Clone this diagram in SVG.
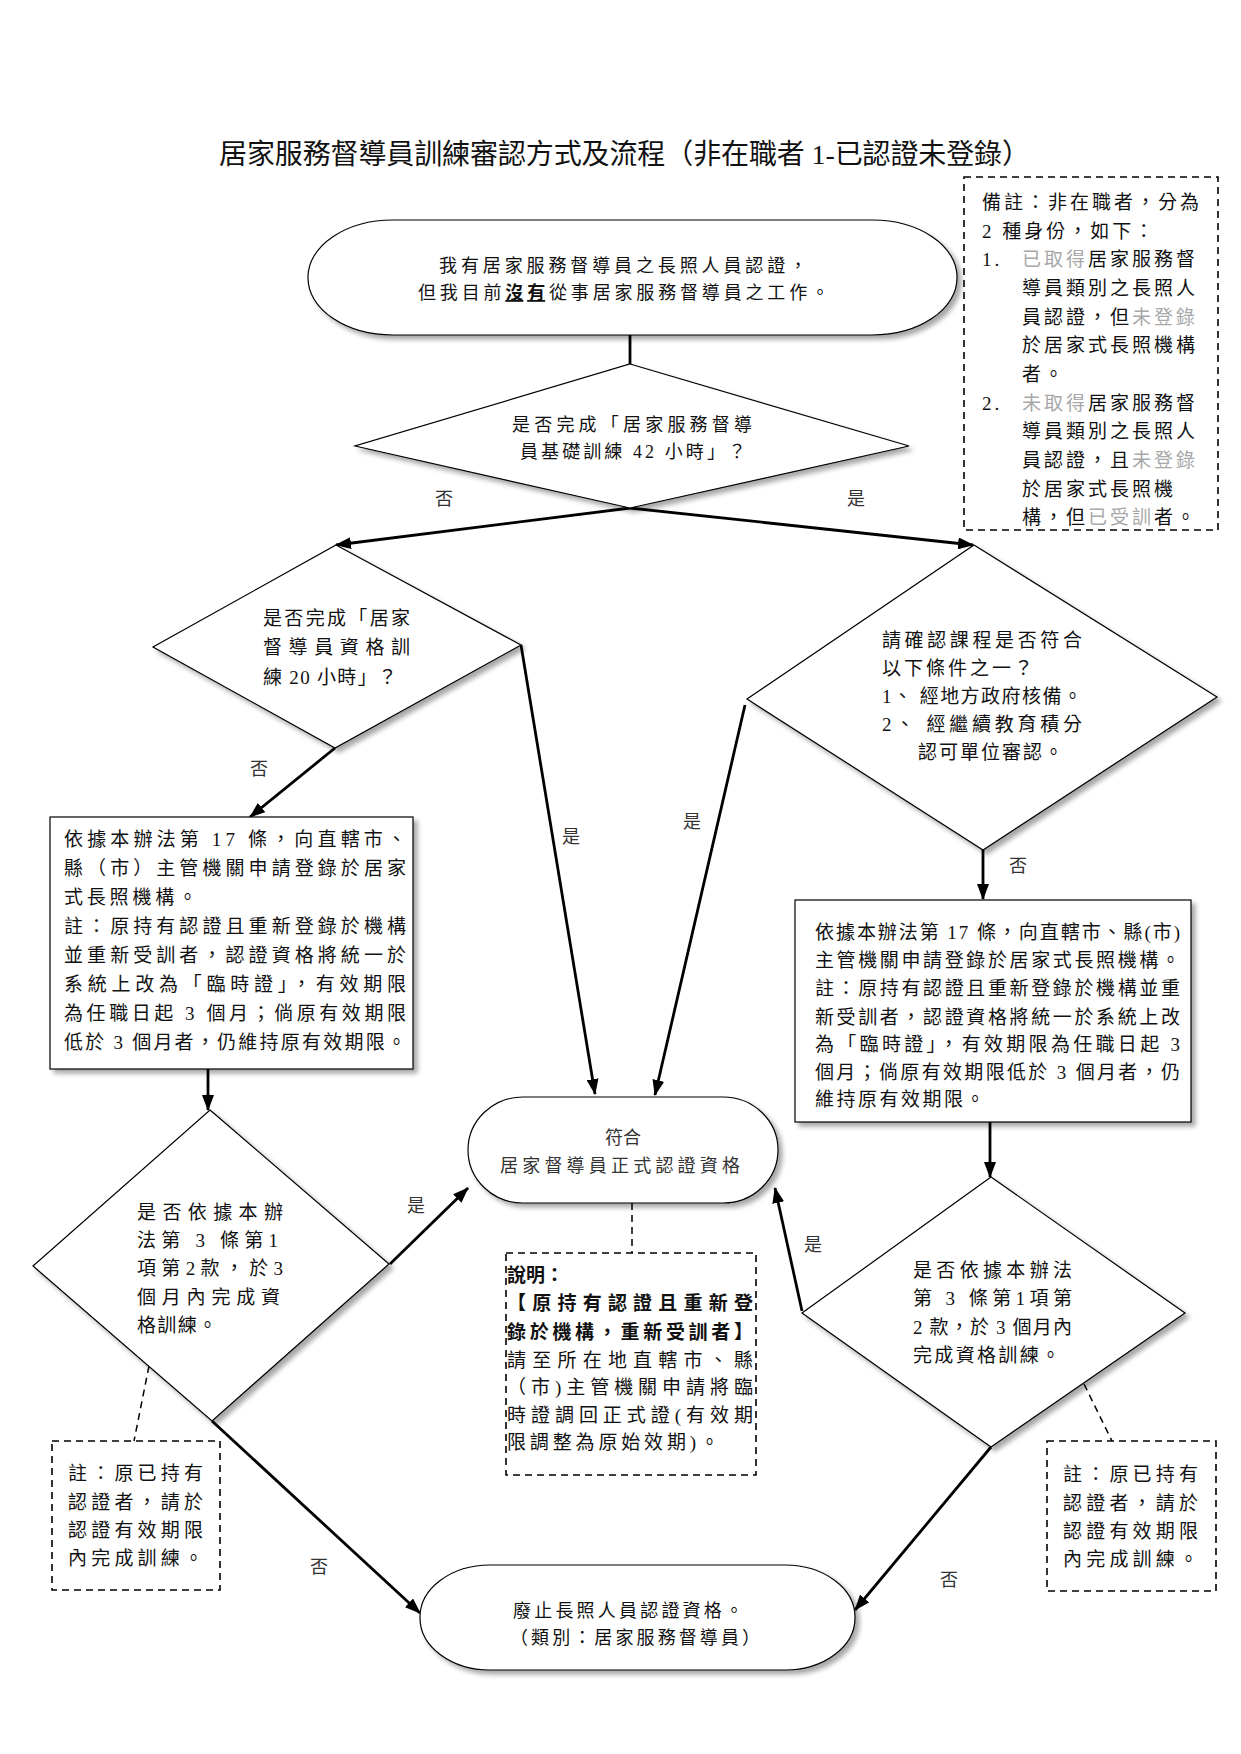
<svg xmlns="http://www.w3.org/2000/svg" width="1241" height="1754" viewBox="0 0 1241 1754">
<style>
.t{font-family:"Liberation Serif","Noto Sans CJK TC",serif;font-size:19px;fill:#111}
.s18{font-size:18px}
.lbl{font-family:"Liberation Serif","Noto Sans CJK TC",serif;font-size:18px;fill:#333}
.gray{fill:#a8a8a8}
.b{font-weight:bold}
.shape{fill:#fff;stroke:#000;stroke-width:1.2;filter:url(#sh)}
.dash{fill:#fff;stroke:#000;stroke-width:1.6;stroke-dasharray:7 5}
.dl{fill:none;stroke:#000;stroke-width:1.5;stroke-dasharray:7 5}
.conn{fill:none;stroke:#000;stroke-width:2.8}
.arr{marker-end:url(#ah)}
</style>
<defs>
<filter id="sh" x="-10%" y="-10%" width="130%" height="130%">
<feGaussianBlur in="SourceAlpha" stdDeviation="2.5"/>
<feOffset dx="4" dy="4" result="o"/>
<feComponentTransfer><feFuncA type="linear" slope="0.35"/></feComponentTransfer>
<feMerge><feMergeNode/><feMergeNode in="SourceGraphic"/></feMerge>
</filter>
<marker id="ah" markerUnits="userSpaceOnUse" markerWidth="16" markerHeight="12" refX="15" refY="6" orient="auto">
<path d="M0,0 L16,6 L0,12 z" fill="#000"/>
</marker>
</defs>
<rect width="1241" height="1754" fill="#fff"/>

<text class="t" x="219" y="164" style="font-size:28px" textLength="811" lengthAdjust="spacing">居家服務督導員訓練審認方式及流程（非在職者 1-已認證未登錄）</text>

<g id="connectors">
<line class="conn" x1="630" y1="335" x2="630" y2="364"/>
<line class="conn arr" x1="630" y1="508" x2="336" y2="545"/>
<line class="conn arr" x1="630" y1="508" x2="973" y2="545"/>
<line class="conn arr" x1="335" y1="748" x2="250" y2="817"/>
<line class="conn arr" x1="521" y1="645" x2="595" y2="1094"/>
<line class="conn arr" x1="745" y1="705" x2="655" y2="1095"/>
<line class="conn arr" x1="983" y1="850" x2="983" y2="899"/>
<line class="conn arr" x1="208" y1="1069" x2="208" y2="1110"/>
<line class="conn arr" x1="990" y1="1122" x2="990" y2="1177"/>
<line class="conn arr" x1="390" y1="1264" x2="468" y2="1188"/>
<line class="conn arr" x1="802" y1="1311" x2="775" y2="1188"/>
<line class="conn arr" x1="212" y1="1421" x2="420" y2="1613"/>
<line class="conn arr" x1="991" y1="1447" x2="855" y2="1610"/>
<line class="dl" x1="632" y1="1203" x2="632" y2="1253"/>
<line class="dl" x1="149" y1="1366" x2="134" y2="1441"/>
<line class="dl" x1="1084" y1="1384" x2="1112" y2="1441"/>
<text class="lbl" x="444" y="505" text-anchor="middle">否</text>
<text class="lbl" x="856" y="505" text-anchor="middle">是</text>
<text class="lbl" x="259" y="775" text-anchor="middle">否</text>
<text class="lbl" x="571" y="843" text-anchor="middle">是</text>
<text class="lbl" x="692" y="828" text-anchor="middle">是</text>
<text class="lbl" x="1018" y="872" text-anchor="middle">否</text>
<text class="lbl" x="416" y="1212" text-anchor="middle">是</text>
<text class="lbl" x="813" y="1251" text-anchor="middle">是</text>
<text class="lbl" x="319" y="1573" text-anchor="middle">否</text>
<text class="lbl" x="949" y="1586" text-anchor="middle">否</text>
</g>

<g id="note-top">
<rect class="dash" x="964" y="177" width="254" height="353"/>
<g class="t" style="letter-spacing:3px">
<text x="982" y="209">備註：非在職者，分為</text>
<text x="982" y="238">2 種身份，如下：</text>
<text x="982" y="266">1.</text>
<text x="1022" y="266"><tspan class="gray">已取得</tspan>居家服務督</text>
<text x="1022" y="295">導員類別之長照人</text>
<text x="1022" y="324">員認證，但<tspan class="gray">未登錄</tspan></text>
<text x="1022" y="352">於居家式長照機構</text>
<text x="1022" y="381">者。</text>
<text x="982" y="410">2.</text>
<text x="1022" y="410"><tspan class="gray">未取得</tspan>居家服務督</text>
<text x="1022" y="438">導員類別之長照人</text>
<text x="1022" y="467">員認證，且<tspan class="gray">未登錄</tspan></text>
<text x="1022" y="496">於居家式長照機</text>
<text x="1022" y="524">構，但<tspan class="gray">已受訓</tspan>者。</text>
</g>
</g>

<g id="start">
<rect class="shape" x="308" y="220" width="649" height="115" rx="85" ry="57"/>
<text class="t s18" x="439" y="272" textLength="368" lengthAdjust="spacing">我有居家服務督導員之長照人員認證，</text>
<text class="t s18" x="418" y="299" textLength="411" lengthAdjust="spacing">但我目前<tspan class="b" text-decoration="underline">沒有</tspan>從事居家服務督導員之工作。</text>
</g>

<g id="d1">
<polygon class="shape" points="630,364 909,446 630,508 355,446"/>
<text class="t s18" x="512" y="431" textLength="240" lengthAdjust="spacing">是否完成「居家服務督導</text>
<text class="t s18" x="520" y="458" textLength="226" lengthAdjust="spacing">員基礎訓練 42 小時」？</text>
</g>

<g id="d2">
<polygon class="shape" points="336,545 521,645 335,748 153,647"/>
<text class="t" x="263" y="625" textLength="147" lengthAdjust="spacing">是否完成「居家</text>
<text class="t" x="263" y="654" textLength="147" lengthAdjust="spacing">督導員資格訓</text>
<text class="t" x="263" y="684" textLength="134" lengthAdjust="spacing">練 20 小時」？</text>
</g>

<g id="d3">
<polygon class="shape" points="974,545 1217,697 983,850 747,699"/>
<text class="t" x="882" y="647" textLength="200" lengthAdjust="spacing">請確認課程是否符合</text>
<text class="t" x="882" y="675" style="letter-spacing:3px">以下條件之一？</text>
<text class="t" x="882" y="703" textLength="200" lengthAdjust="spacing">1、 經地方政府核備。</text>
<text class="t" x="882" y="731" textLength="200" lengthAdjust="spacing">2、 經繼續教育積分</text>
<text class="t" x="918" y="759" textLength="145" lengthAdjust="spacing">認可單位審認。</text>
</g>

<g id="box1">
<rect class="shape" x="50" y="817" width="363" height="252"/>
<text class="t" x="64" y="846" textLength="342" lengthAdjust="spacing">依據本辦法第 17 條，向直轄市、</text>
<text class="t" x="64" y="875" textLength="342" lengthAdjust="spacing">縣（市）主管機關申請登錄於居家</text>
<text class="t" x="64" y="904" style="letter-spacing:3.8px">式長照機構。</text>
<text class="t" x="64" y="933" textLength="342" lengthAdjust="spacing">註：原持有認證且重新登錄於機構</text>
<text class="t" x="64" y="962" textLength="342" lengthAdjust="spacing">並重新受訓者，認證資格將統一於</text>
<text class="t" x="64" y="991" textLength="342" lengthAdjust="spacing">系統上改為「臨時證」，有效期限</text>
<text class="t" x="64" y="1020" textLength="342" lengthAdjust="spacing">為任職日起 3 個月；倘原有效期限</text>
<text class="t" x="64" y="1049" textLength="342" lengthAdjust="spacing">低於 3 個月者，仍維持原有效期限。</text>
</g>

<g id="box2">
<rect class="shape" x="795" y="900" width="396" height="222"/>
<text class="t" x="815" y="939" textLength="365" lengthAdjust="spacing">依據本辦法第 17 條，向直轄市、縣(市)</text>
<text class="t" x="815" y="967" textLength="365" lengthAdjust="spacing">主管機關申請登錄於居家式長照機構。</text>
<text class="t" x="815" y="995" textLength="365" lengthAdjust="spacing">註：原持有認證且重新登錄於機構並重</text>
<text class="t" x="815" y="1024" textLength="365" lengthAdjust="spacing">新受訓者，認證資格將統一於系統上改</text>
<text class="t" x="815" y="1051" textLength="365" lengthAdjust="spacing">為「臨時證」，有效期限為任職日起 3</text>
<text class="t" x="815" y="1079" textLength="365" lengthAdjust="spacing">個月；倘原有效期限低於 3 個月者，仍</text>
<text class="t" x="815" y="1106" style="letter-spacing:2.5px">維持原有效期限。</text>
</g>

<g id="d4">
<polygon class="shape" points="210,1110 389,1264 212,1421 33,1266"/>
<text class="t" x="137" y="1219" textLength="146" lengthAdjust="spacing">是否依據本辦</text>
<text class="t" x="137" y="1247" textLength="141" lengthAdjust="spacing">法第 3 條第1</text>
<text class="t" x="137" y="1275" textLength="146" lengthAdjust="spacing">項第2款，於3</text>
<text class="t" x="137" y="1304" textLength="143" lengthAdjust="spacing">個月內完成資</text>
<text class="t" x="137" y="1332" textLength="80" lengthAdjust="spacing">格訓練。</text>
</g>

<g id="d5">
<polygon class="shape" points="991,1177 1185,1313 991,1447 802,1313"/>
<text class="t" x="913" y="1277" textLength="159" lengthAdjust="spacing">是否依據本辦法</text>
<text class="t" x="913" y="1305" textLength="159" lengthAdjust="spacing">第 3 條第1項第</text>
<text class="t" x="913" y="1334" textLength="159" lengthAdjust="spacing">2 款，於 3 個月內</text>
<text class="t" x="913" y="1362" textLength="147" lengthAdjust="spacing">完成資格訓練。</text>
</g>

<g id="ok">
<rect class="shape" x="468" y="1097" width="310" height="106" rx="55" ry="53"/>
<text class="t s18" x="623" y="1144" text-anchor="middle" style="fill:#333">符合</text>
<text class="t s18" x="500" y="1172" textLength="240" lengthAdjust="spacing" style="fill:#333">居家督導員正式認證資格</text>
</g>

<g id="explain">
<rect class="dash" x="506" y="1253" width="250" height="222"/>
<text class="t b" x="507" y="1282">說明：</text>
<text class="t b" x="507" y="1310" textLength="246" lengthAdjust="spacing">【原持有認證且重新登</text>
<text class="t b" x="507" y="1339" textLength="246" lengthAdjust="spacing">錄於機構，重新受訓者】</text>
<text class="t" x="507" y="1367" textLength="246" lengthAdjust="spacing">請至所在地直轄市、縣</text>
<text class="t" x="507" y="1394" textLength="246" lengthAdjust="spacing">（市)主管機關申請將臨</text>
<text class="t" x="507" y="1422" textLength="246" lengthAdjust="spacing">時證調回正式證(有效期</text>
<text class="t" x="507" y="1449" textLength="212" lengthAdjust="spacing">限調整為原始效期)。</text>
</g>

<g id="note-left">
<rect class="dash" x="52" y="1441" width="168" height="149"/>
<text class="t" x="68" y="1480" textLength="135" lengthAdjust="spacing">註：原已持有</text>
<text class="t" x="68" y="1509" textLength="135" lengthAdjust="spacing">認證者，請於</text>
<text class="t" x="68" y="1537" textLength="135" lengthAdjust="spacing">認證有效期限</text>
<text class="t" x="68" y="1565" textLength="135" lengthAdjust="spacing">內完成訓練。</text>
</g>

<g id="note-right">
<rect class="dash" x="1047" y="1441" width="169" height="150"/>
<text class="t" x="1063" y="1481" textLength="135" lengthAdjust="spacing">註：原已持有</text>
<text class="t" x="1063" y="1510" textLength="135" lengthAdjust="spacing">認證者，請於</text>
<text class="t" x="1063" y="1538" textLength="135" lengthAdjust="spacing">認證有效期限</text>
<text class="t" x="1063" y="1566" textLength="135" lengthAdjust="spacing">內完成訓練。</text>
</g>

<g id="end">
<rect class="shape" x="420" y="1565" width="435" height="105" rx="70" ry="52"/>
<text class="t s18" x="513" y="1617" textLength="230" lengthAdjust="spacing">廢止長照人員認證資格。</text>
<text class="t s18" x="510" y="1644" textLength="250" lengthAdjust="spacing">（類別：居家服務督導員）</text>
</g>
</svg>
